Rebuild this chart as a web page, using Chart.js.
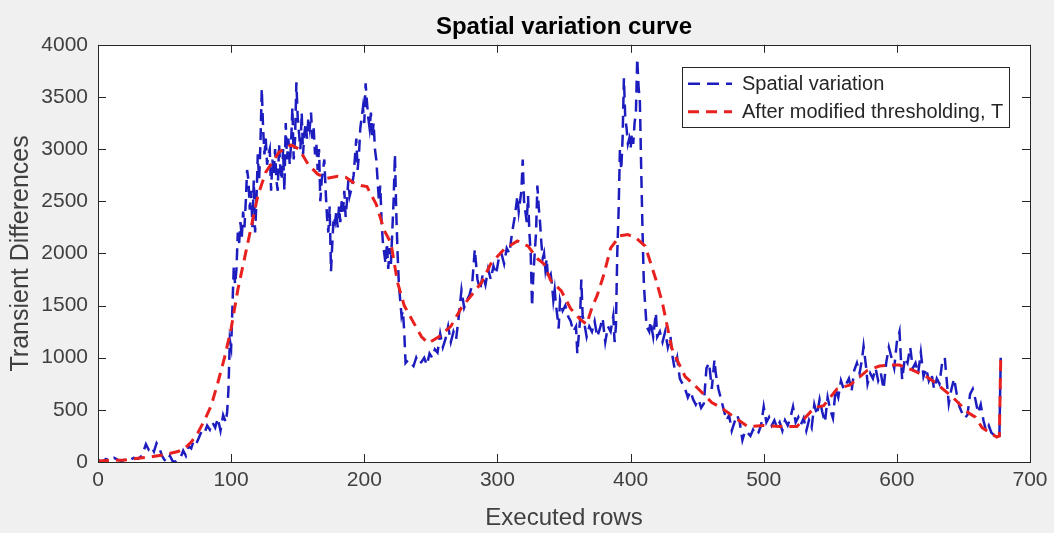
<!DOCTYPE html>
<html>
<head>
<meta charset="utf-8">
<script src="https://cdn.jsdelivr.net/npm/chart.js@4.4.0/dist/chart.umd.min.js"></script>
<style>
    html, body { margin: 0; padding: 0; background: #f0f0f0; }
    #wrap { width: 1054px; height: 533px; }
</style>
</head>
<body>
<div id="wrap"><canvas id="chart" width="1054" height="533"></canvas></div>
<script>
// Spatial variation (blue dashed) - executed row / transient difference
const rowsSpatial = [
    0, 3, 6, 9, 12, 15, 18, 21, 24, 27, 30, 33, 36, 38, 40, 42, 44, 46, 48, 50,
    52, 54, 56, 58, 60, 62, 64, 66, 68, 70, 72, 74, 76, 78, 80, 82, 84, 86, 88, 90,
    92, 94, 96, 97, 98, 99, 100, 101, 102, 103, 104, 105, 106, 107, 108, 109, 110, 111, 112, 113,
    114, 115, 116, 117, 118, 119, 120, 121, 122, 123, 124, 125, 126, 127, 128, 129, 130, 131, 132, 133,
    134, 135, 136, 137, 138, 139, 140, 141, 142, 143, 144, 145, 146, 147, 148, 149, 150, 151, 152, 153,
    154, 155, 156, 157, 158, 159, 160, 161, 162, 163, 164, 165, 166, 167, 168, 170, 171, 172, 173, 174,
    175, 176, 177, 178, 179, 180, 181, 182, 183, 184, 185, 186, 187, 188, 189, 190, 192, 194, 195, 196,
    197, 198, 199, 200, 201, 202, 203, 204, 205, 206, 207, 208, 209, 210, 211, 212, 213, 214, 215, 216,
    217, 218, 219, 220, 221, 222, 223, 224, 225, 226, 227, 228, 229, 230, 231, 233, 235, 237, 239, 241,
    243, 245, 247, 249, 251, 253, 255, 257, 259, 261, 263, 265, 267, 269, 271, 273, 275, 277, 279, 281,
    283, 285, 287, 289, 291, 293, 295, 297, 299, 301, 303, 305, 307, 309, 311, 313, 315, 316, 318, 319,
    320, 321, 322, 323, 324, 325, 326, 327, 328, 329, 330, 331, 332, 333, 334, 335, 336, 337, 338, 340,
    341, 342, 343, 344, 345, 346, 347, 349, 351, 353, 355, 357, 359, 360, 361, 362, 363, 364, 365, 367,
    369, 371, 373, 375, 377, 379, 381, 383, 385, 387, 388, 389, 390, 391, 392, 393, 394, 395, 396, 397,
    398, 399, 400, 401, 402, 403, 404, 405, 406, 407, 408, 409, 410, 411, 412, 414, 415, 417, 419, 420,
    422, 424, 426, 428, 430, 431, 433, 435, 437, 439, 441, 443, 445, 447, 449, 451, 453, 455, 457, 459,
    461, 463, 464, 466, 468, 470, 472, 474, 476, 478, 480, 482, 484, 486, 488, 490, 492, 494, 496, 498,
    500, 502, 504, 506, 508, 510, 512, 514, 516, 518, 520, 522, 524, 526, 528, 530, 532, 534, 536, 538,
    540, 542, 544, 546, 548, 550, 552, 554, 556, 558, 560, 562, 564, 566, 568, 570, 572, 574, 575, 577,
    578, 580, 582, 584, 586, 588, 590, 592, 594, 596, 598, 600, 602, 603, 604, 606, 608, 610, 612, 614,
    616, 618, 620, 622, 624, 626, 628, 630, 632, 634, 636, 637, 639, 641, 643, 645, 647, 649, 651, 653,
    655, 657, 659, 661, 663, 665, 667, 669, 671, 673, 675, 677, 678
];
const spatialVariation = [
    20, 0, 30, 10, 40, 20, 10, 30, 20, 40, 30, 60, 170, 120, 150, 100, 180, 140, 60, 20,
    0, 60, 10, 0, 20, 40, 110, 60, 150, 130, 210, 180, 240, 300, 280, 350, 310, 380, 330, 420,
    300, 450, 380, 480, 700, 1170, 1100, 1500, 1880, 1700, 1850, 2200, 2100, 2300, 2150, 2400, 2250, 2500, 2800, 2700,
    2420, 2600, 2250, 2700, 2200, 2500, 2950, 2700, 3050, 3580, 3200, 2950, 3100, 2850, 2950, 3000, 2600, 2900, 2750, 3000,
    2700, 2600, 3050, 2800, 2700, 3000, 2600, 3250, 2900, 3100, 2850, 3050, 3400, 2900, 3100, 3640, 3300, 3150, 3000, 3350,
    2950, 3150, 3250, 3100, 3300, 3200, 3350, 3100, 3200, 2950, 3050, 2800, 3000, 2500, 2700, 2900, 2600, 2350, 2200, 2450,
    1830, 2100, 2350, 2300, 2400, 2250, 2450, 2300, 2500, 2400, 2600, 2350, 2500, 2700, 2550, 2600, 2750, 3100, 2800, 2950,
    3200, 3300, 3400, 3250, 3630, 3450, 3300, 3200, 3350, 3100, 3250, 3000, 2900, 2700, 2500, 2650, 2300, 2100, 2000, 1900,
    2100, 1850, 2050, 1900, 2200, 2500, 2950, 2400, 2000, 1700, 1550, 1400, 1450, 1250, 950, 980, 950, 920, 1000, 940,
    960, 1000, 930, 1040, 1000, 1080, 1050, 1230, 1100, 1180, 1300, 1150, 1250, 1180, 1400, 1650, 1480, 1550, 1600, 1700,
    2040, 1750, 1650, 1800, 1700, 1850, 1750, 1880, 1800, 1950, 2000, 1900, 2050, 2000, 2200, 2350, 2550, 2400, 2600, 2900,
    2500, 2400, 2300, 2550, 2200, 2000, 1490, 1800, 2000, 2200, 2650, 2450, 2300, 2100, 1950, 2000, 1850, 1950, 1750, 1800,
    1700, 1550, 1650, 1500, 1400, 1280, 1550, 1450, 1500, 1400, 1350, 1250, 1300, 1040, 1200, 1350, 1750, 1400, 1350, 1200,
    1300, 1250, 1350, 1200, 1280, 1380, 1150, 1300, 1250, 1400, 1150, 1300, 2000, 2400, 3000, 2800, 3100, 3680, 3300, 3200,
    3050, 3100, 3000, 3150, 3050, 3250, 3350, 3870, 3600, 3450, 2800, 2200, 1700, 1500, 1300, 1250, 1350, 1200, 1430, 1200,
    1250, 1150, 1250, 1100, 1200, 1050, 900, 1000, 800, 750, 700, 620, 680, 600, 550, 600, 520, 560, 900, 950,
    700, 980, 850, 700, 600, 500, 400, 450, 300, 380, 450, 380, 210, 300, 280, 250, 310, 260, 280, 350,
    530, 380, 430, 350, 400, 330, 380, 300, 400, 350, 420, 530, 380, 430, 360, 420, 300, 400, 330, 550,
    450, 600, 480, 380, 620, 500, 420, 700, 620, 780, 700, 750, 800, 680, 880, 950, 850, 1000, 1110, 900,
    750, 850, 800, 900, 780, 850, 700, 950, 1100, 1000, 900, 1150, 1250, 1000, 790, 1000, 950, 1100, 900, 950,
    850, 1050, 820, 900, 780, 850, 700, 800, 750, 950, 1000, 850, 560, 700, 800, 650, 530, 470, 420, 450,
    650, 700, 600, 470, 550, 400, 300, 350, 280, 260, 240, 230, 1000
];

// After modified thresholding, T (red dashed)
const rowsThreshold = [
    0, 10, 20, 30, 40, 50, 60, 65, 70, 75, 80, 85, 90, 95, 100, 105, 110, 115, 120, 126,
    136, 145, 151, 158, 165, 172, 180, 186, 194, 202, 209, 215, 220, 225, 230, 236, 243, 248, 256, 265,
    273, 280, 288, 295, 305, 315, 323, 330, 335, 340, 348, 355, 362, 367, 371, 375, 380, 385, 392, 398,
    404, 411, 419, 424, 431, 436, 441, 451, 461, 468, 478, 488, 500, 512, 525, 538, 545, 555, 565, 578,
    587, 594, 602, 612, 622, 629, 642, 654, 659, 664, 670, 675, 677, 678
];
const thresholdT = [
    10, 15, 20, 35, 50, 70, 100, 130, 190, 280, 400, 540, 760, 1000, 1280, 1650, 1950, 2250, 2550, 2780,
    2970, 3040, 3000, 2850, 2760, 2720, 2740, 2730, 2660, 2640, 2470, 2220, 2100, 1720, 1500, 1360, 1200, 1140, 1200, 1300,
    1480, 1590, 1720, 1900, 2040, 2120, 2070, 1950, 1900, 1740, 1640, 1470, 1370, 1320, 1480, 1600, 1800, 2050, 2170, 2180,
    2150, 2070, 1750, 1520, 1090, 950, 820, 700, 570, 520, 430, 340, 350, 340, 340, 520, 540, 700, 740, 880,
    920, 930, 930, 880, 820, 760, 620, 470, 430, 330, 280, 240, 250, 980
];

const axisColor = '#262626';
const labelColor = '#404040';
const fontFamily = '"Liberation Sans", Arial, Helvetica, sans-serif';

function toPoints(xs, ys) {
    return xs.map((x, i) => ({ x: x, y: ys[i] }));
}

// white axes background (MATLAB style)
const axesBackground = {
    id: 'axesBackground',
    beforeDraw(chart) {
        const { ctx, chartArea: a } = chart;
        ctx.save();
        ctx.fillStyle = '#ffffff';
        ctx.fillRect(a.left, a.top, a.right - a.left, a.bottom - a.top);
        ctx.restore();
    }
};

// box + inward tick marks on all four sides
const axesBox = {
    id: 'axesBox',
    afterDatasetsDraw(chart) {
        const { ctx, chartArea: a, scales } = chart;
        const len = 8;
        ctx.save();
        ctx.strokeStyle = axisColor;
        ctx.lineWidth = 1;
        ctx.beginPath();
        scales.x.ticks.forEach(t => {
            const px = Math.round(scales.x.getPixelForValue(t.value)) + 0.5;
            ctx.moveTo(px, a.bottom);
            ctx.lineTo(px, a.bottom - len);
            ctx.moveTo(px, a.top);
            ctx.lineTo(px, a.top + len);
        });
        scales.y.ticks.forEach(t => {
            const py = Math.round(scales.y.getPixelForValue(t.value)) + 0.5;
            ctx.moveTo(a.left, py);
            ctx.lineTo(a.left + len, py);
            ctx.moveTo(a.right, py);
            ctx.lineTo(a.right - len, py);
        });
        ctx.stroke();
        ctx.strokeRect(Math.round(a.left) + 0.5, Math.round(a.top) + 0.5,
            Math.round(a.right - a.left), Math.round(a.bottom - a.top));
        ctx.restore();
    }
};

// legend box inside the axes, top right
const boxedLegend = {
    id: 'boxedLegend',
    afterDraw(chart) {
        const { ctx, chartArea: a } = chart;
        const w = 327, h = 60;
        const x0 = a.right - 21 - w;
        const y0 = a.top + 22;
        ctx.save();
        ctx.fillStyle = '#ffffff';
        ctx.fillRect(x0, y0, w, h);
        ctx.strokeStyle = axisColor;
        ctx.lineWidth = 1;
        ctx.strokeRect(Math.round(x0) + 0.5, Math.round(y0) + 0.5, w, h);
        ctx.font = '20px ' + fontFamily;
        ctx.textBaseline = 'middle';
        ctx.fillStyle = axisColor;
        chart.data.datasets.forEach((ds, i) => {
            const cy = y0 + 17 + i * 28;
            ctx.save();
            ctx.strokeStyle = ds.borderColor;
            ctx.lineWidth = ds.borderWidth;
            ctx.setLineDash(ds.borderDash);
            ctx.beginPath();
            ctx.moveTo(x0 + 6, cy);
            ctx.lineTo(x0 + 50, cy);
            ctx.stroke();
            ctx.restore();
            ctx.fillText(ds.label, x0 + 60, cy + 1);
        });
        ctx.restore();
    }
};

const ctx = document.getElementById('chart').getContext('2d');
new Chart(ctx, {
    type: 'line',
    data: {
        datasets: [
            {
                label: 'Spatial variation',
                data: toPoints(rowsSpatial, spatialVariation),
                borderColor: '#1d1dbf',
                borderWidth: 2.5,
                borderDash: [12, 7],
                pointRadius: 0,
                tension: 0,
                fill: false,
                order: 2
            },
            {
                label: 'After modified thresholding, T',
                data: toPoints(rowsThreshold, thresholdT),
                borderColor: '#e8201e',
                borderWidth: 3,
                borderDash: [11, 7],
                pointRadius: 0,
                tension: 0,
                fill: false,
                order: 1
            }
        ]
    },
    options: {
        responsive: false,
        devicePixelRatio: 1,
        animation: false,
        layout: { padding: { left: 0, right: 24, top: 0, bottom: 0 } },
        plugins: {
            legend: { display: false },
            tooltip: { enabled: false },
            title: {
                display: true,
                fullSize: false,
                text: 'Spatial variation curve',
                color: '#000',
                font: { family: fontFamily, size: 24, weight: 'bold' },
                padding: { top: 13, bottom: 3 }
            }
        },
        scales: {
            x: {
                type: 'linear',
                min: 0,
                max: 700,
                ticks: {
                    stepSize: 100,
                    color: labelColor,
                    padding: 6,
                    maxRotation: 0,
                    font: { family: fontFamily, size: 21 },
                    callback: (v) => String(v)
                },
                grid: { display: false, drawTicks: false },
                border: { display: false },
                title: {
                    display: true,
                    text: 'Executed rows',
                    color: labelColor,
                    font: { family: fontFamily, size: 24 },
                    padding: { top: 0, bottom: 0 }
                },
                afterFit: (s) => { s.height = 71; }
            },
            y: {
                min: 0,
                max: 4000,
                ticks: {
                    stepSize: 500,
                    color: labelColor,
                    padding: 10,
                    font: { family: fontFamily, size: 21 },
                    callback: (v) => String(v)
                },
                grid: { display: false, drawTicks: false },
                border: { display: false },
                title: {
                    display: true,
                    text: 'Transient Differences',
                    color: labelColor,
                    font: { family: fontFamily, size: 25 },
                    padding: { top: 6, bottom: 0 }
                },
                afterFit: (s) => { s.width = 98; }
            }
        }
    },
    plugins: [axesBackground, axesBox, boxedLegend]
});
</script>
</body>
</html>
